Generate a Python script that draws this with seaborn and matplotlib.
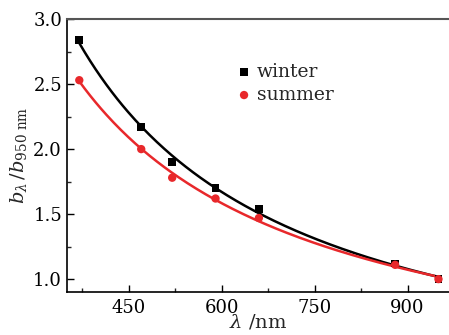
import numpy as np
import pandas as pd
import matplotlib
matplotlib.use('Agg')
import matplotlib.pyplot as plt
import seaborn as sns
from matplotlib.ticker import MultipleLocator

wavelength = [370, 470, 520, 590, 660, 880, 950]
winter = [2.84, 2.17, 1.90, 1.70, 1.54, 1.12, 1.00]
summer = [2.53, 2.00, 1.78, 1.62, 1.47, 1.11, 1.00]

sns.set_style('ticks')
plt.rcParams['font.family'] = ['DejaVu Serif']
plt.rcParams['mathtext.fontset'] = 'dejavuserif'
plt.rcParams['xtick.direction'] = 'in'
plt.rcParams['ytick.direction'] = 'in'

df = pd.DataFrame({'wl': wavelength, 'winter': winter, 'summer': summer})

#power-law fit for each season
def power_fit(x, y):
    k, c = np.polyfit(np.log(x), np.log(y), 1)
    xs = np.linspace(min(x), max(x), 200)
    return xs, np.exp(c) * xs ** k

red = '#e8282b'
fig = plt.figure(figsize=(4.49, 3.35), dpi=100)
ax = fig.add_axes([0.149, 0.128, 0.851, 0.815])

xs, yw = power_fit(df['wl'], df['winter'])
sns.lineplot(x=xs, y=yw, color='black', linewidth=1.8, ax=ax)
xs, ys = power_fit(df['wl'], df['summer'])
sns.lineplot(x=xs, y=ys, color=red, linewidth=1.8, ax=ax)

sns.scatterplot(data=df, x='wl', y='winter', marker='s', s=32, color='black',
                edgecolor='none', label='winter', ax=ax, zorder=3)
sns.scatterplot(data=df, x='wl', y='summer', marker='o', s=36, color=red,
                edgecolor='none', label='summer', ax=ax, zorder=3)

ax.set_xlim(350, 967)
ax.set_ylim(0.9, 3.0)
ax.set_xticks([450, 600, 750, 900])
ax.xaxis.set_minor_locator(MultipleLocator(75))
ax.yaxis.set_major_locator(MultipleLocator(0.5))
ax.yaxis.set_minor_locator(MultipleLocator(0.25))
ax.tick_params(which='major', length=5, width=1, labelsize=13, colors='black')
ax.tick_params(which='minor', length=3, width=1)
ax.tick_params(axis='x', pad=5)

for side in ['left', 'bottom']:
    ax.spines[side].set_color('black')
    ax.spines[side].set_linewidth(1.2)
ax.spines['top'].set_color('#555555')
ax.spines['top'].set_linewidth(1.5)
ax.spines['right'].set_visible(False)

ax.set_xlabel(r'$\lambda$ /nm', fontsize=14, labelpad=-3)
ax.set_ylabel(r'$b_\lambda\,/b_{950\ \mathrm{nm}}$', fontsize=14, labelpad=3)

ax.legend(loc='upper left', bbox_to_anchor=(0.39, 0.9), frameon=False,
          fontsize=13.5, handletextpad=0.1, labelspacing=0.25, handlelength=1.2)

fig.savefig('out.png', dpi=100)
